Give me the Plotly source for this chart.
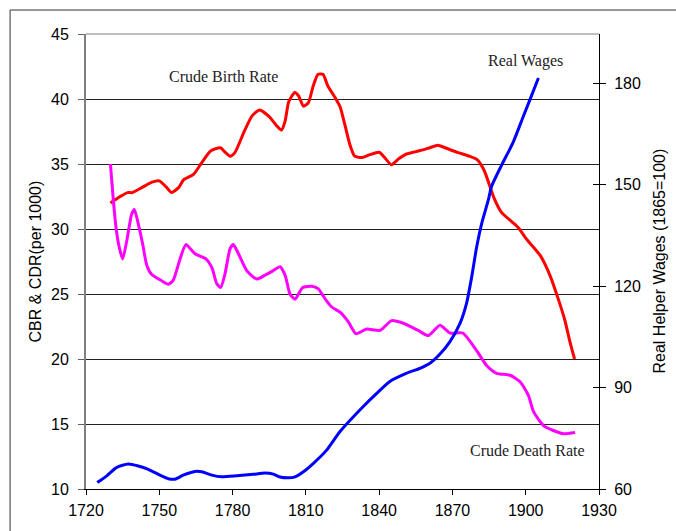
import plotly.graph_objects as go

# Crude birth rate (per 1000)
cbr_years = [1730, 1734, 1737, 1739, 1743, 1747, 1750, 1753, 1755, 1758, 1760, 1764, 1767,
             1771, 1775, 1777, 1779, 1781, 1785, 1788, 1791, 1795, 1798, 1800, 1801.5, 1803,
             1805.5, 1807, 1809, 1811, 1813, 1815, 1817, 1819, 1822, 1824, 1826, 1828, 1830,
             1833, 1836, 1840, 1842, 1845, 1848, 1851, 1855, 1860, 1864, 1867, 1872, 1877,
             1880, 1883, 1887, 1890, 1894, 1897, 1900, 1906, 1910, 1913, 1916, 1918, 1920]
cbr_values = [32.0, 32.5, 32.8, 32.8, 33.2, 33.6, 33.7, 33.2, 32.8, 33.2, 33.8, 34.2, 35.0,
              36.0, 36.25, 35.9, 35.6, 35.9, 37.6, 38.7, 39.15, 38.65, 37.95, 37.6, 38.3, 39.8,
              40.5, 40.25, 39.45, 39.7, 41.0, 41.9, 41.9, 41.0, 40.1, 39.4, 38.0, 36.5, 35.6,
              35.5, 35.7, 35.9, 35.55, 34.95, 35.4, 35.75, 35.95, 36.2, 36.45, 36.25, 35.9, 35.6,
              35.35, 34.5, 32.4, 31.3, 30.6, 30.1, 29.3, 27.95, 26.4, 24.8, 23.0, 21.4, 20.0]

# Crude death rate (per 1000)
cdr_years = [1730, 1731.2, 1732.3, 1733.6, 1735, 1736.7, 1738.7, 1739.8, 1741.4, 1743.2, 1744.9,
             1746.9, 1750.3, 1753.7, 1755.7, 1758.5, 1760.9, 1764.6, 1769.1, 1771.5, 1773.5,
             1775.1, 1776.9, 1779, 1780.3, 1782.4, 1785.8, 1789.9, 1793.3, 1796.7, 1799.4,
             1801.5, 1803.5, 1805.6, 1808.7, 1812.4, 1815.1, 1817.8, 1820.6, 1824, 1827.4,
             1830.5, 1834.9, 1840.4, 1845.1, 1849.9, 1856, 1860.1, 1864.9, 1869, 1874.2,
             1879.9, 1884, 1888.1, 1893.6, 1897.7, 1901.1, 1903.2, 1907.2, 1911.3, 1915.4, 1920.2]
cdr_values = [35.0, 32.2, 30.1, 28.6, 27.7, 29.1, 31.15, 31.5, 30.4, 28.85, 27.2,
              26.5, 26.1, 25.75, 26.05, 27.7, 28.8, 28.1, 27.7, 27.05, 25.8,
              25.5, 26.55, 28.5, 28.8, 28.1, 26.8, 26.15, 26.45, 26.8, 27.1,
              26.45, 25.0, 24.6, 25.5, 25.6, 25.4, 24.65, 24.0, 23.6, 22.85,
              21.95, 22.3, 22.2, 22.95, 22.75, 22.2, 21.8, 22.6, 22.0, 22.0,
              20.65, 19.5, 18.9, 18.75, 18.25, 17.2, 15.95, 14.9, 14.5, 14.25, 14.35]

# Real helper wages (1865 = 100)
wage_years = [1724.6, 1728.5, 1732.6, 1737.3, 1741.4, 1745.5, 1750.3, 1753.7, 1756.4, 1759.8,
              1764.6, 1767.4, 1771.5, 1775.5, 1781.7, 1788.5, 1793.3, 1796.7, 1799.4, 1802.8,
              1805.6, 1809, 1813.1, 1818.5, 1824, 1833.5, 1839, 1844.4, 1851.3, 1856.7, 1860.8,
              1865, 1869, 1873.1, 1875.8, 1877.9, 1879.9, 1882, 1884.7, 1886, 1890.2, 1894.7,
              1899, 1902.5, 1905.2]
wage_values = [61.9, 63.9, 66.4, 67.4, 66.8, 65.8, 64.1, 63.05, 62.9, 64.1,
               65.2, 65.1, 64.1, 63.6, 63.9, 64.35, 64.7, 64.4, 63.55, 63.3,
               63.6, 65.1, 67.6, 71.5, 77.0, 84.4, 88.3, 91.8, 94.25, 95.7, 97.2,
               100.0, 103.6, 109.0, 115.0, 122.8, 131.5, 138.6, 145.5, 149.5, 155.9, 162.3,
               170.2, 176.6, 181.6]

x_ticks = [1720, 1750, 1780, 1810, 1840, 1870, 1900, 1930]
left_ticks = [10, 15, 20, 25, 30, 35, 40, 45]
right_ticks = [60, 90, 120, 150, 180]

SANS = "Liberation Sans, Arial, sans-serif"
SERIF = "Liberation Serif, Times New Roman, serif"

fig = go.Figure()
fig.add_trace(go.Scatter(x=cbr_years, y=cbr_values, mode="lines", name="Crude Birth Rate",
                         line=dict(color="#FF0000", width=3, shape="spline", smoothing=0.6)))
fig.add_trace(go.Scatter(x=cdr_years, y=cdr_values, mode="lines", name="Crude Death Rate",
                         line=dict(color="#FF00FF", width=3, shape="spline", smoothing=0.6)))
fig.add_trace(go.Scatter(x=wage_years, y=wage_values, mode="lines", name="Real Wages", yaxis="y2",
                         line=dict(color="#0000FF", width=3, shape="spline", smoothing=0.6)))

fig.update_layout(
    width=676, height=531,
    margin=dict(l=86, r=77, t=34, b=42),
    paper_bgcolor="white", plot_bgcolor="white",
    showlegend=False,
    font=dict(family=SANS, size=16, color="black"),
    xaxis=dict(range=[1720, 1930], tickvals=x_ticks, ticks="outside", ticklen=5,
               tickcolor="black", showline=True, linecolor="black", linewidth=1,
               showgrid=False, zeroline=False, tickfont=dict(size=16),
               ticklabelstandoff=2, automargin=False),
    yaxis=dict(range=[10, 45], tickvals=left_ticks, ticks="outside", ticklen=6,
               tickcolor="#606060", showline=True, linecolor="#808080", linewidth=2,
               showgrid=True, gridcolor="#222222", gridwidth=1, zeroline=False,
               tickfont=dict(size=16), ticklabelstandoff=6, automargin=False),
    yaxis2=dict(range=[60, 194.6], tickvals=right_ticks, overlaying="y", side="right",
                anchor="x", ticks="outside", ticklen=6, tickcolor="black",
                showline=True, linecolor="black", linewidth=1, showgrid=False,
                zeroline=False, tickfont=dict(size=16), ticklabelstandoff=5,
                automargin=False),
    yaxis3=dict(range=[60, 194.6], tickvals=right_ticks, overlaying="y", side="right",
                anchor="x", ticks="inside", ticklen=6, tickcolor="black",
                showticklabels=False, showline=False, showgrid=False, zeroline=False,
                automargin=False),
)

# invisible trace so the inner tick marks of the wage axis are drawn
fig.add_trace(go.Scatter(x=[None], y=[None], yaxis="y3", showlegend=False, hoverinfo="skip"))

annotations = [
    dict(text="CBR & CDR(per 1000)", xref="paper", yref="paper", x=-0.0975, y=0.5,
         textangle=-90, showarrow=False, xanchor="center", yanchor="middle",
         font=dict(family=SANS, size=16)),
    dict(text="Real Helper Wages (1865=100)", xref="paper", yref="paper", x=1.117, y=0.5,
         textangle=-90, showarrow=False, xanchor="center", yanchor="middle",
         font=dict(family=SANS, size=16)),
    dict(text="Crude Birth Rate", xref="x", yref="y", x=1776.3, y=41.7, showarrow=False,
         font=dict(family=SERIF, size=16, color="#222222")),
    dict(text="Real Wages", xref="x", yref="y", x=1900.1, y=42.9, showarrow=False,
         font=dict(family=SERIF, size=16, color="#222222")),
    dict(text="Crude Death Rate", xref="x", yref="y", x=1900.9, y=13.0, showarrow=False,
         font=dict(family=SERIF, size=16, color="#222222")),
]
fig.update_layout(annotations=annotations)

fig.update_layout(shapes=[
    # top frame line of the plot area
    dict(type="line", xref="paper", yref="paper", x0=0, x1=1, y0=1, y1=1,
         line=dict(color="#808080", width=1), layer="above"),
    # outer chart border
    dict(type="rect", xref="paper", yref="paper", x0=-0.148, x1=1.2, y0=-0.2, y1=1.0527,
         line=dict(color="#333333", width=1), layer="below"),
])

fig.write_html("out.html")
